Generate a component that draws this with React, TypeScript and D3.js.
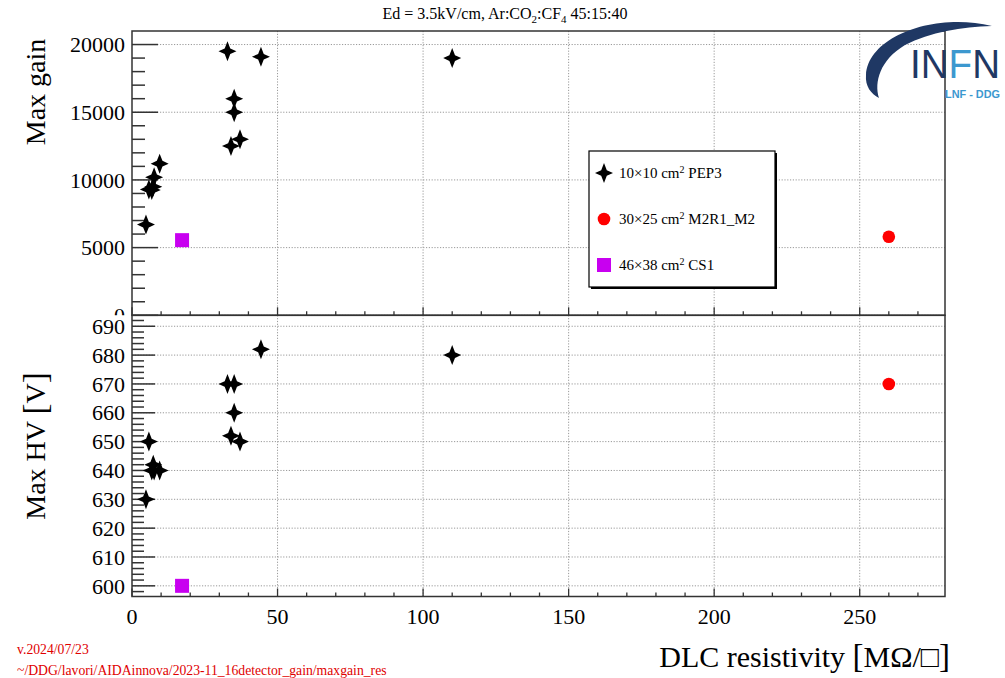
import * as d3 from "d3";

// PEP3 10x10 detectors
const pepRes = [4.8, 5.8, 6.8, 7.3, 7.6, 9.5, 32.8, 34.0, 35.1, 35.1, 37.1, 44.3, 110];
const pepGain = [6700, 9300, 9250, 9500, 10200, 11200, 19500, 12500, 16000, 15000, 13000, 19100, 19000];
const pepHV = [630, 650, 640, 642, 640, 640, 670, 652, 670, 660, 650, 682, 680];

// M2R1_M2 30x25
const m2Res = [260];
const m2Gain = [5800];
const m2HV = [670];

// CS1 46x38
const csRes = [17.2];
const csGain = [5550];
const csHV = [600];

const xTicks = [0, 50, 100, 150, 200, 250];
const gainTicks = [0, 5000, 10000, 15000, 20000];
const hvTicks = [600, 610, 620, 630, 640, 650, 660, 670, 680, 690];

const legendItems = [
  { kind: "star", label: "10×10 cm", sup: "2", rest: " PEP3" },
  { kind: "circle", label: "30×25 cm", sup: "2", rest: " M2R1_M2" },
  { kind: "square", label: "46×38 cm", sup: "2", rest: " CS1" },
];

const W = 1005, H = 678;
const L = 132, R = 945;
const upTop = 31, mid = 315.3, lowBot = 596.5;
const serif = "'Liberation Serif', 'Times New Roman', serif";
const frameCol = "#333";
const gridCol = "#999";
const magenta = "#c800f0";

const x = d3.scaleLinear().domain([0, 279.3]).range([L, R]);
const yG = d3.scaleLinear().domain([0, 21000]).range([mid, upTop]);
const yV = d3.scaleLinear().domain([596.3, 693.8]).range([lowBot, mid]);

function starPath(cx: number, cy: number) {
  const w = 9, h = 10, a = 2.8;
  return `M${cx},${cy - h} L${cx + a},${cy - a} L${cx + w},${cy} L${cx + a},${cy + a} L${cx},${cy + h} L${cx - a},${cy + a} L${cx - w},${cy} L${cx - a},${cy - a} Z`;
}

function Marker({ kind, cx, cy }: { kind: string; cx: number; cy: number }) {
  if (kind === "star") return <path d={starPath(cx, cy)} fill="#000" />;
  if (kind === "circle") return <circle cx={cx} cy={cy} r={6.3} fill="#ff0000" />;
  return <rect x={cx - 7} y={cy - 7} width={14} height={14} fill={magenta} />;
}

function Pad({ y, top, bottom, ticks, minorStep, majLen, minLen, labels, clipId }: any) {
  const [d0, d1] = y.domain();
  const minors = d3.range(Math.ceil(d0 / minorStep) * minorStep, d1, minorStep);
  const xMinors = d3.range(0, 280, 10);
  return (
    <g>
      {/* grid */}
      {xTicks.slice(1).map((t) => (
        <line key={"gx" + t} x1={x(t)} x2={x(t)} y1={top} y2={bottom} stroke={gridCol} strokeDasharray="1.2,1.6" />
      ))}
      {ticks.map((t: number) => (
        <line key={"gy" + t} x1={L} x2={R} y1={y(t)} y2={y(t)} stroke={gridCol} strokeDasharray="1.2,1.6" />
      ))}
      {/* y ticks */}
      {minors.map((t: number) => {
        const major = ticks.some((m: number) => Math.abs(m - t) < 1e-6);
        return <line key={"ty" + t} x1={L} x2={L + (major ? majLen : minLen)} y1={y(t)} y2={y(t)} stroke={frameCol} strokeWidth={1.5} />;
      })}
      {/* x ticks */}
      {xMinors.map((t) => (
        <line key={"tx" + t} x1={x(t)} x2={x(t)} y1={bottom} y2={bottom - (t % 50 === 0 ? 8 : 4)} stroke={frameCol} strokeWidth={1.3} />
      ))}
      <rect x={L} y={top} width={R - L} height={bottom - top} fill="none" stroke={frameCol} strokeWidth={1.5} />
      <g clipPath={clipId ? `url(#${clipId})` : undefined}>
        {ticks.map((t: number) => (
          <text key={"ly" + t} x={125} y={y(t)} dy="0.35em" textAnchor="end" fontFamily={serif} fontSize={labels}>
            {t}
          </text>
        ))}
      </g>
    </g>
  );
}

export default function App() {
  return (
    <svg width={W} height={H} style={{ position: "absolute", left: 0, top: 0, background: "#fff" }}>
      <defs>
        <clipPath id="upclip">
          <rect x={0} y={0} width={W} height={mid} />
        </clipPath>
      </defs>
      <rect width={W} height={H} fill="#fff" />

      <text x={505} y={19} textAnchor="middle" fontFamily={serif} fontSize={16}>
        Ed = 3.5kV/cm, Ar:CO<tspan fontSize={11} dy={4}>2</tspan>
        <tspan dy={-4}>:CF</tspan>
        <tspan fontSize={11} dy={4}>4</tspan>
        <tspan dy={-4}> 45:15:40</tspan>
      </text>

      <Pad y={yG} top={upTop} bottom={mid} ticks={gainTicks} minorStep={1000} majLen={26} minLen={13} labels={22} clipId="upclip" />
      <Pad y={yV} top={mid} bottom={lowBot} ticks={hvTicks} minorStep={2} majLen={23} minLen={12} labels={22} />

      {/* upper data */}
      {pepRes.map((r, i) => <Marker key={"pg" + i} kind="star" cx={x(r)} cy={yG(pepGain[i])} />)}
      {m2Res.map((r, i) => <Marker key={"mg" + i} kind="circle" cx={x(r)} cy={yG(m2Gain[i])} />)}
      {csRes.map((r, i) => <Marker key={"cg" + i} kind="square" cx={x(r)} cy={yG(csGain[i])} />)}

      {/* lower data */}
      {pepRes.map((r, i) => <Marker key={"pv" + i} kind="star" cx={x(r)} cy={yV(pepHV[i])} />)}
      {m2Res.map((r, i) => <Marker key={"mv" + i} kind="circle" cx={x(r)} cy={yV(m2HV[i])} />)}
      {csRes.map((r, i) => <Marker key={"cv" + i} kind="square" cx={x(r)} cy={yV(csHV[i])} />)}

      {/* x labels */}
      {xTicks.map((t) => (
        <text key={"lx" + t} x={x(t)} y={624} textAnchor="middle" fontFamily={serif} fontSize={22}>
          {t}
        </text>
      ))}

      {/* legend */}
      <g>
        <rect x={591} y={153} width={186} height={136} fill="#000" />
        <rect x={589} y={151} width={186} height={136} fill="#fff" stroke="#000" strokeWidth={1.2} />
        {legendItems.map((it, i) => {
          const cy = 173 + i * 46;
          return (
            <g key={it.kind}>
              <Marker kind={it.kind} cx={604} cy={cy} />
              <text x={619} y={cy + 5} fontFamily={serif} fontSize={15}>
                {it.label}
                <tspan fontSize={10} dy={-5.5}>{it.sup}</tspan>
                <tspan dy={5.5}>{it.rest}</tspan>
              </text>
            </g>
          );
        })}
      </g>

      {/* axis titles */}
      <text transform="translate(45,92) rotate(-90)" textAnchor="middle" fontFamily={serif} fontSize={28}>
        Max gain
      </text>
      <text transform="translate(45,446) rotate(-90)" textAnchor="middle" fontFamily={serif} fontSize={28}>
        Max HV <tspan fontSize={33} dy={1}>[</tspan><tspan dy={-1}>V</tspan><tspan fontSize={33} dy={1}>]</tspan>
      </text>
      <text x={950} y={667} textAnchor="end" fontFamily={serif} fontSize={30}>
        DLC resistivity <tspan fontSize={33}>[</tspan><tspan>MΩ/□</tspan><tspan fontSize={33}>]</tspan>
      </text>

      {/* footer */}
      <text x={17} y={654} fontFamily={serif} fontSize={13.7} fill="#e00000">v.2024/07/23</text>
      <text x={17} y={675} fontFamily={serif} fontSize={13.7} fill="#e00000">
        ~/DDG/lavori/AIDAinnova/2023-11_16detector_gain/maxgain_res
      </text>

      {/* logo */}
      <g>
        <path d="M992,26 C935,12 868,36 866,75 C865,86 871,94 879,98 C874,82 880,60 905,45 C930,32 962,27 992,26 Z" fill="#1f3864" />
        <text x={910} y={78} fontFamily="'Liberation Sans', Arial, sans-serif" fontSize={40} textLength={90} lengthAdjust="spacingAndGlyphs">
          <tspan fill="#1f3864">IN</tspan>
          <tspan fill="#3c98cf">F</tspan>
          <tspan fill="#1f3864">N</tspan>
        </text>
        <text x={945} y={98} fontFamily="'Liberation Sans', Arial, sans-serif" fontSize={10} fontWeight="bold" fill="#3c98cf" textLength={55} lengthAdjust="spacingAndGlyphs">
          LNF - DDG
        </text>
      </g>
    </svg>
  );
}
